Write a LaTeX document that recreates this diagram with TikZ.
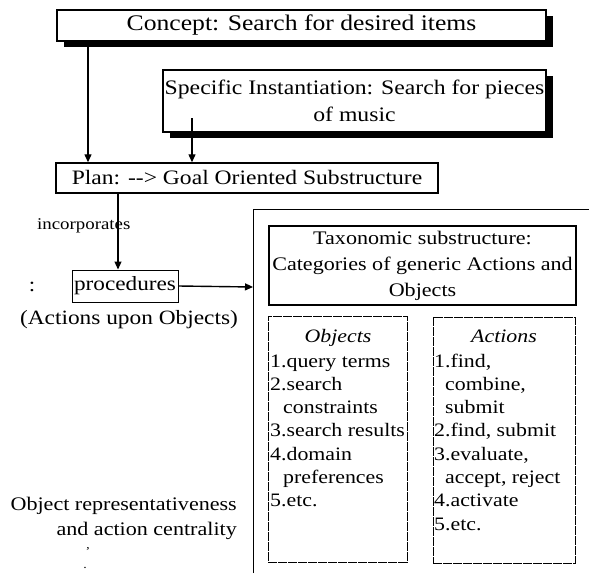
\documentclass[tikz,border=0pt]{standalone}
\usepackage{fontspec}
\setmainfont[FakeStretch=1.15]{Liberation Serif}
\usetikzlibrary{arrows.meta,shadows}
\newcommand{\fsz}[2]{\fontsize{#1}{#2}\selectfont}
\begin{document}
\begin{tikzpicture}[x=1pt,y=-1pt,
  box/.style={draw, line width=1.4pt, fill=white, inner sep=0pt, align=center},
  shad/.style={drop shadow={shadow xshift=7pt, shadow yshift=-6pt, opacity=1, fill=black}},
  arr/.style={-{Triangle[length=8pt,width=7pt]}, line width=1.2pt},
  lst/.style={anchor=base west, inner sep=0pt, font=\fsz{19}{23}},
  ttl/.style={anchor=base, inner sep=0pt, font=\fsz{19}{23}\itshape},
  dbox/.style={draw, line width=0.8pt, dash pattern=on 9pt off 1pt, inner sep=0pt},
  lbl/.style={inner sep=0pt}]
\useasboundingbox (0,0) rectangle (589,573);

% top boxes
\node[box, shad, minimum width=489pt, minimum height=31pt, font=\fsz{22.3}{26}] (concept) at (301.5,25.5) {Concept: Search for desired items};
\node[box, shad, minimum width=383pt, minimum height=62pt, font=\fsz{20.6}{27}] (spec) at (354.5,101) {Specific Instantiation: Search for pieces\\of music};
\node[box, minimum width=382pt, minimum height=30pt, font=\fsz{20.5}{24}] (plan) at (247,178) {Plan: -{}-{}> Goal Oriented Substructure};

% left labels
\node[lbl, anchor=base west, font=\fsz{16.4}{18}] (inc) at (37,229) {incorporates};
\node[box, line width=1pt, minimum width=106pt, minimum height=32pt, font=\fsz{20.2}{24}] (proc) at (125,286) {procedures};
\node[lbl, font=\fsz{20}{24}] (colon) at (32,287) {:};
\node[lbl, font=\fsz{20.3}{24}] (aup) at (129,320) {(Actions upon Objects)};
\node[lbl, anchor=base east, font=\fsz{19.2}{24}] (orep) at (237,510) {Object representativeness};
\node[lbl, anchor=base east, font=\fsz{19.2}{24}] (acen) at (237,535) {and action centrality};
\node[lbl, font=\fsz{12}{14}] (m1) at (88,552) {'};
\node[lbl, font=\fsz{12}{14}] (m2) at (85,568) {.};

% container
\coordinate (ctop) at (253,209);
\coordinate (cbot) at (253,573);
\coordinate (cright) at (589,209);
\coordinate (cin) at (253,287);
\draw[line width=1pt] (cbot) -- (ctop) -- (cright);

% taxonomic
\node[box, line width=1.2pt, minimum width=307pt, minimum height=79pt, font=\fsz{19.2}{26}] (tax) at (422.5,265.5) {Taxonomic substructure:\\Categories of generic Actions and\\Objects};

% objects / actions boxes
\node[dbox, minimum width=139pt, minimum height=246pt] (objbox) at (337.5,439) {};
\node[dbox, minimum width=142pt, minimum height=246pt] (actbox) at (504,440) {};

\node[ttl] (ot) at (338,342) {Objects};
\node[lst] (o1) at (270,367) {1.query terms};
\node[lst] (o2) at (270,390.3) {2.search};
\node[lst] (o3) at (283,413.6) {constraints};
\node[lst] (o4) at (270,436.9) {3.search results};
\node[lst] (o5) at (270,460.2) {4.domain};
\node[lst] (o6) at (283,483.5) {preferences};
\node[lst] (o7) at (270,506.8) {5.etc.};

\node[ttl] (at) at (504,342) {Actions};
\node[lst] (a1) at (434,367) {1.find,};
\node[lst] (a2) at (445,390.3) {combine,};
\node[lst] (a3) at (445,413.6) {submit};
\node[lst] (a4) at (434,436.9) {2.find, submit};
\node[lst] (a5) at (434,460.2) {3.evaluate,};
\node[lst] (a6) at (445,483.5) {accept, reject};
\node[lst] (a7) at (434,506.8) {4.activate};
\node[lst] (a8) at (434,530.1) {5.etc.};

% connectors
\coordinate (c1) at (88,0);
\coordinate (s1) at (192,118);
\coordinate (p1) at (118,0);
\draw[arr] (concept.south -| c1) -- (plan.north -| c1);
\draw[arr] (s1) -- (plan.north -| s1);
\draw[arr] (plan.south -| p1) -- (proc.north -| p1);
\draw[arr, line width=1.4pt] (proc.east) -- (cin);
\end{tikzpicture}
\end{document}
